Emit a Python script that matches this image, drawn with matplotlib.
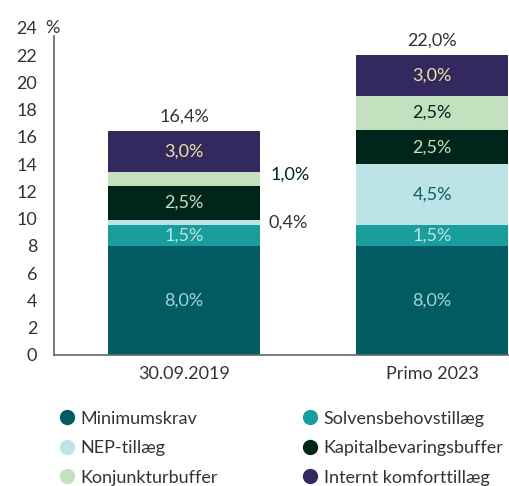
import matplotlib.pyplot as plt
from matplotlib.lines import Line2D

plt.rcParams['font.family'] = ['Lato', 'DejaVu Sans']

categories = ['30.09.2019', 'Primo 2023']
series = ['Minimumskrav', 'Solvensbehovstillæg', 'NEP-tillæg',
          'Kapitalbevaringsbuffer', 'Konjunkturbuffer', 'Internt komforttillæg']
values = {
    'Minimumskrav': [8.0, 8.0],
    'Solvensbehovstillæg': [1.5, 1.5],
    'NEP-tillæg': [0.4, 4.5],
    'Kapitalbevaringsbuffer': [2.5, 2.5],
    'Konjunkturbuffer': [1.0, 2.5],
    'Internt komforttillæg': [3.0, 3.0],
}
totals = [16.4, 22.0]
yticks = list(range(0, 25, 2))

colors = {
    'Minimumskrav': '#025a63',
    'Solvensbehovstillæg': '#189e9f',
    'NEP-tillæg': '#bce3e5',
    'Kapitalbevaringsbuffer': '#00261c',
    'Konjunkturbuffer': '#c3e1bf',
    'Internt komforttillæg': '#33295e',
}
label_colors = {
    'Minimumskrav': '#9fd6d3',
    'Solvensbehovstillæg': '#bce3e5',
    'NEP-tillæg': '#0d5e66',
    'Kapitalbevaringsbuffer': '#c3e1bf',
    'Konjunkturbuffer': '#00261c',
    'Internt komforttillæg': '#efe3a0',
}
FS = 13


def fmt(v):
    return f'{v:.1f}'.replace('.', ',') + '%'


fig = plt.figure(figsize=(5.09, 4.86), dpi=100)
ax = fig.add_axes([0.106, 0.270, 0.894, 0.678])

x = [0, 1]
width = 0.613
bottoms = [0.0, 0.0]
for s in series:
    vals = values[s]
    ax.bar(x, vals, width, bottom=bottoms, color=colors[s], linewidth=0)
    for i, v in enumerate(vals):
        mid = bottoms[i] + v / 2
        if v >= 1.5:
            ax.text(x[i], mid, fmt(v), ha='center', va='center',
                    fontsize=FS, color=label_colors[s])
    bottoms = [b + v for b, v in zip(bottoms, vals)]

# small segments of the first bar, labelled beside it
b0 = values['Minimumskrav'][0] + values['Solvensbehovstillæg'][0]
ax.text(0.34, b0 + values['NEP-tillæg'][0] / 2, fmt(values['NEP-tillæg'][0]),
        ha='left', va='center', fontsize=FS, color='#333333')
b1 = b0 + values['NEP-tillæg'][0] + values['Kapitalbevaringsbuffer'][0]
ax.text(0.35, b1 + values['Konjunkturbuffer'][0] / 2 + 0.3,
        fmt(values['Konjunkturbuffer'][0]),
        ha='left', va='center', fontsize=FS, color='#00261c')

for i, t in enumerate(totals):
    ax.text(x[i], t + 0.5, fmt(t), ha='center', va='bottom',
            fontsize=FS, color='#333333')

ax.set_xlim(-0.524, 1.31)
ax.set_ylim(0, 24.2)
ax.set_yticks(yticks)
ax.set_yticklabels([str(t) for t in yticks], fontsize=FS, color='#333333')
ax.set_xticks(x)
ax.set_xticklabels(categories, fontsize=FS, color='#333333')
ax.tick_params(axis='both', length=0)
ax.tick_params(axis='y', pad=12)
ax.tick_params(axis='x', pad=8)
ax.spines['top'].set_visible(False)
ax.spines['right'].set_visible(False)
ax.spines['left'].set_bounds(0, 23.4)
for sp in ('left', 'bottom'):
    ax.spines[sp].set_color('#666666')
    ax.spines[sp].set_linewidth(1.2)
ax.text(-0.558, 24.0, '%', ha='left', va='center', fontsize=FS,
        color='#333333', clip_on=False)

order = ['Minimumskrav', 'NEP-tillæg', 'Konjunkturbuffer',
         'Solvensbehovstillæg', 'Kapitalbevaringsbuffer', 'Internt komforttillæg']
handles = [Line2D([], [], marker='o', linestyle='none', markersize=11,
                  markerfacecolor=colors[s], markeredgewidth=0) for s in order]
fig.legend(handles, order, loc='upper left', bbox_to_anchor=(0.1, 0.17),
           ncol=2, frameon=False, fontsize=FS, handletextpad=0.25,
           columnspacing=4.6, labelspacing=0.75, handlelength=1.0,
           labelcolor='#333333', borderaxespad=0)

fig.savefig('out.png', dpi=100)
